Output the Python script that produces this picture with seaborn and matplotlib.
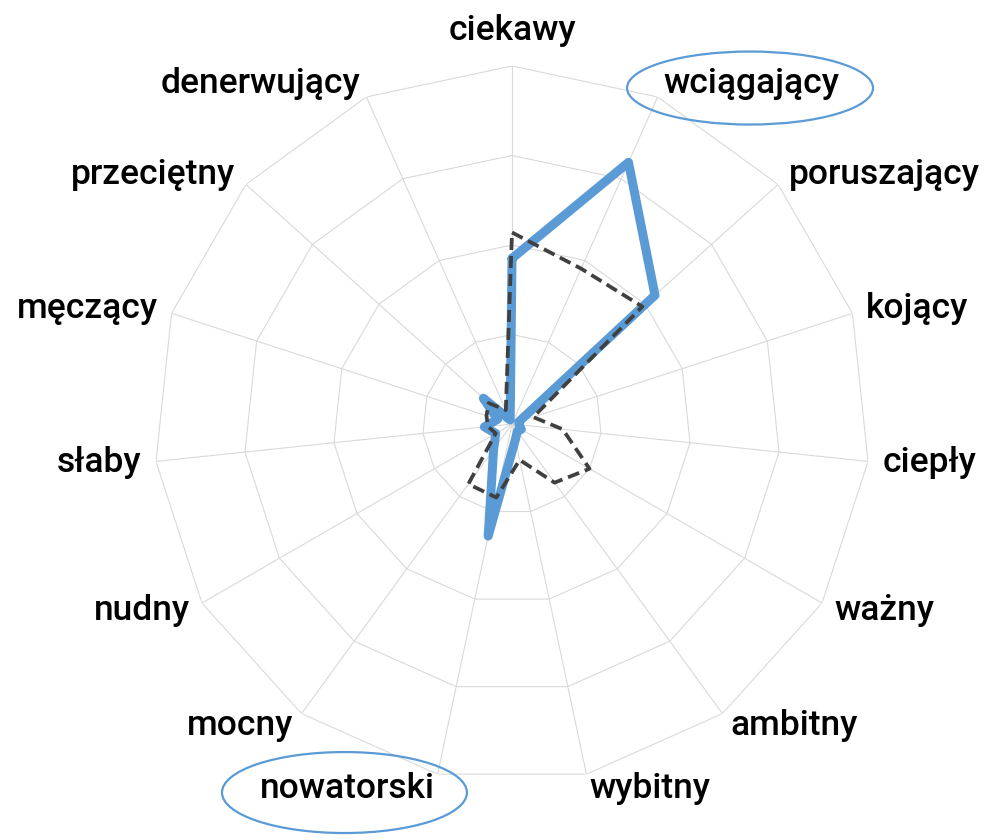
import numpy as np
import pandas as pd
import matplotlib
matplotlib.use("Agg")
import matplotlib.pyplot as plt
import seaborn as sns
from matplotlib.patches import Ellipse

# dane
categories = ["ciekawy", "wciągający", "poruszający", "kojący", "ciepły", "ważny",
              "ambitny", "wybitny", "nowatorski", "mocny", "nudny", "słaby",
              "męczący", "przeciętny", "denerwujący"]
blue_values = [1.85, 3.2, 2.15, 0.08, 0.08, 0.12, 0.1, 0.18, 1.28, 0.35, 0.21, 0.31,
               0.17, 0.43, 0.05]
gray_values = [2.14, 1.9, 1.96, 0.25, 0.57, 1.0, 0.81, 0.41, 0.84, 0.83, 0.21, 0.27,
               0.3, 0.35, 0.17]
ring_values = [1, 2, 3, 4]
highlighted = ["wciągający", "nowatorski"]

sns.set_theme(style="white")
plt.rcParams["font.family"] = ["Roboto", "DejaVu Sans"]

n = len(categories)
theta = np.linspace(0, 2 * np.pi, n, endpoint=False)
theta_closed = np.append(theta, theta[0])

# tabela dla seaborn (zamknięte wielokąty)
df = pd.concat([
    pd.DataFrame({"theta": theta_closed, "r": blue_values + blue_values[:1], "series": "A"}),
    pd.DataFrame({"theta": theta_closed, "r": gray_values + gray_values[:1], "series": "B"}),
], ignore_index=True)

fig = plt.figure(figsize=(9.97, 8.4), dpi=100)
ax = fig.add_axes([0.15446, 0.06905, 0.71815, 0.85238], projection="polar")
ax.set_theta_offset(np.pi / 2)
ax.set_theta_direction(-1)

# siatka wielokątna
for v in ring_values:
    ax.plot(theta_closed, [v] * (n + 1), color="#D9D9D9", lw=0.8, zorder=1)
for t in theta:
    ax.plot([t, t], [0, ring_values[-1]], color="#D9D9D9", lw=0.8, zorder=1)

sns.lineplot(data=df, x="theta", y="r", hue="series", style="series", size="series",
             palette={"A": "#5B9BD5", "B": "#404040"},
             dashes={"A": "", "B": (3.2, 1.6)},
             sizes={"A": 6.5, "B": 2.7},
             sort=False, estimator=None, legend=False, ax=ax, zorder=3)
for line in ax.lines[-2:]:
    line.set_solid_joinstyle("round")
    line.set_solid_capstyle("round")

ax.set_ylim(0, ring_values[-1])
ax.grid(False)
ax.spines["polar"].set_visible(False)
ax.set_xticks([])
ax.set_yticks([])
ax.set_xlabel("")
ax.set_ylabel("")
ax.set_facecolor("none")

# etykiety kategorii
for t, name in zip(theta, categories):
    deg = np.degrees(t)
    if deg == 0:
        ax.text(t, 4.4, name, ha="center", va="center", fontsize=25.5,
                fontweight="medium", color="black")
    else:
        ha = "left" if deg < 180 else "right"
        ax.text(t, 4.16, name, ha=ha, va="center", fontsize=25.5,
                fontweight="medium", color="black")

# elipsy wokół wyróżnionych etykiet
fig.add_artist(Ellipse((0.7523, 0.8952), 0.2467, 0.0869, transform=fig.transFigure,
                       fill=False, edgecolor="#5B9BD5", lw=1.6))
fig.add_artist(Ellipse((0.3455, 0.0565), 0.2457, 0.0964, transform=fig.transFigure,
                       fill=False, edgecolor="#5B9BD5", lw=1.6))

fig.savefig("out.png", dpi=100)
